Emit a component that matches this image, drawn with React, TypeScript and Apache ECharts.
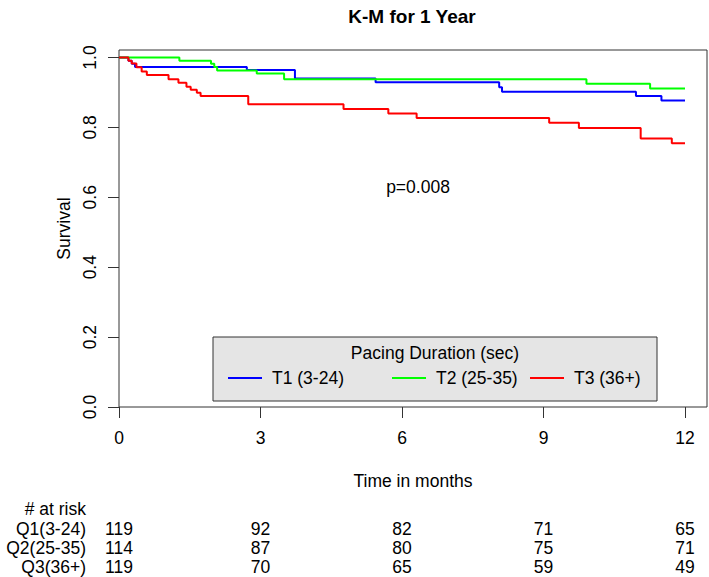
import React, { useEffect, useRef } from "react";
import * as echarts from "echarts";

// ---- data ----
const seriesNames = ["T1 (3-24)", "T2 (25-35)", "T3 (36+)"];
const seriesColors = ["#0000FF", "#00FF00", "#FF0000"];

const t1Times = [0, 0.2, 0.27, 0.34, 2.71, 3.73, 5.44, 8.06, 8.12, 10.96, 11.5, 12];
const t1Surv = [1, 0.991, 0.982, 0.973, 0.964, 0.94, 0.929, 0.915, 0.902, 0.89, 0.877, 0.877];

const t2Times = [0, 1.28, 1.95, 2.02, 2.08, 2.92, 3.5, 9.91, 11.26, 12];
const t2Surv = [1, 0.991, 0.982, 0.973, 0.963, 0.954, 0.938, 0.925, 0.911, 0.911];

const t3Times = [0, 0.2, 0.27, 0.37, 0.48, 0.59, 1.05, 1.26, 1.43, 1.52, 1.65, 1.73, 2.74, 4.76, 5.71, 6.31, 9.12, 9.75, 11.06, 11.72, 12];
const t3Surv = [1, 0.991, 0.983, 0.972, 0.96, 0.95, 0.938, 0.928, 0.916, 0.908, 0.899, 0.89, 0.866, 0.853, 0.84, 0.827, 0.813, 0.798, 0.768, 0.755, 0.755];

const xTicks = [0, 3, 6, 9, 12];
const yTicks = [0, 0.2, 0.4, 0.6, 0.8, 1.0];

const riskGroups = ["Q1(3-24)", "Q2(25-35)", "Q3(36+)"];
const riskQ1 = [119, 92, 82, 71, 65];
const riskQ2 = [114, 87, 80, 75, 71];
const riskQ3 = [119, 70, 65, 59, 49];

const FONT = "'Liberation Sans', Arial, sans-serif";
const FS = 17.5;

function zip(a: number[], b: number[]) {
  return a.map((v, i) => [v, b[i]]);
}

export default function App() {
  const ref = useRef<HTMLDivElement>(null);
  useEffect(() => {
    const chart = echarts.init(ref.current!, null, { renderer: "svg" });
    const data = [zip(t1Times, t1Surv), zip(t2Times, t2Surv), zip(t3Times, t3Surv)];
    const legendLefts = [228, 392, 530];
    const option: any = {
      animation: false,
      backgroundColor: "#ffffff",
      textStyle: { fontFamily: FONT },
      title: {
        text: "K-M for 1 Year",
        left: 407,
        top: 2,
        textAlign: "center",
        textStyle: { fontFamily: FONT, fontSize: 19, fontWeight: "bold", color: "#000" },
      },
      grid: {
        left: 119,
        top: 50,
        width: 588,
        height: 357,
        show: true,
        borderColor: "#333",
        borderWidth: 1,
        backgroundColor: "transparent",
      },
      xAxis: {
        type: "value",
        min: 0,
        max: 12.466,
        name: "Time in months",
        nameLocation: "middle",
        nameGap: 65,
        nameTextStyle: { fontFamily: FONT, fontSize: FS, color: "#000" },
        axisLine: { show: false },
        axisTick: { show: true, length: 11, inside: false, customValues: xTicks, lineStyle: { color: "#333" } },
        axisLabel: { customValues: xTicks, margin: 22, fontFamily: FONT, fontSize: FS, color: "#000" },
        splitLine: { show: false },
      },
      yAxis: {
        type: "value",
        min: 0,
        max: 1.0215,
        name: "Survival",
        nameLocation: "middle",
        nameGap: 42,
        nameRotate: 90,
        nameTextStyle: { fontFamily: FONT, fontSize: FS, color: "#000" },
        axisLine: { show: false },
        axisTick: { show: true, length: 11, inside: false, customValues: yTicks, lineStyle: { color: "#333" } },
        axisLabel: {
          customValues: yTicks,
          rotate: 90,
          margin: 20,
          fontFamily: FONT,
          fontSize: FS,
          color: "#000",
          formatter: (v: number) => v.toFixed(1),
        },
        splitLine: { show: false },
      },
      legend: seriesNames.map((n, i) => ({
        left: legendLefts[i],
        top: 369,
        padding: 0,
        itemWidth: 34,
        itemHeight: 2,
        icon: "rect",
        data: [n],
        textStyle: { fontFamily: FONT, fontSize: FS, color: "#000", padding: [0, 0, 0, 5] },
      })),
      series: seriesNames.map((name, i) => ({
        name,
        type: "line",
        step: "end",
        data: data[i],
        symbol: "none",
        showSymbol: false,
        color: seriesColors[i],
        lineStyle: { color: seriesColors[i], width: 2 },
        z: 3,
      })),
    };
    chart.setOption(option);

    const xs = xTicks.map((t) => chart.convertToPixel({ xAxisIndex: 0 }, t) as number);
    const riskRows = [riskQ1, riskQ2, riskQ3];
    const rowY = [529, 548, 567];
    const graphic: any[] = [
      {
        type: "rect",
        z: 1,
        shape: { x: 213, y: 337, width: 444, height: 64 },
        style: { fill: "#E5E5E5", stroke: "#333", lineWidth: 1 },
      },
      {
        type: "text",
        z: 2,
        x: 435,
        y: 353,
        style: { text: "Pacing Duration (sec)", fontFamily: FONT, fontSize: FS, fill: "#000", textAlign: "center", textVerticalAlign: "middle" },
      },
      {
        type: "text",
        x: 418,
        y: 187,
        style: { text: "p=0.008", fontFamily: FONT, fontSize: FS, fill: "#000", textAlign: "center", textVerticalAlign: "middle" },
      },
      {
        type: "text",
        x: 86,
        y: 509,
        style: { text: "# at risk", fontFamily: FONT, fontSize: FS, fill: "#000", textAlign: "right", textVerticalAlign: "middle" },
      },
    ];
    riskGroups.forEach((g, r) => {
      graphic.push({
        type: "text",
        x: 86,
        y: rowY[r],
        style: { text: g, fontFamily: FONT, fontSize: FS, fill: "#000", textAlign: "right", textVerticalAlign: "middle" },
      });
      riskRows[r].forEach((v, c) => {
        graphic.push({
          type: "text",
          x: xs[c],
          y: rowY[r],
          style: { text: String(v), fontFamily: FONT, fontSize: FS, fill: "#000", textAlign: "center", textVerticalAlign: "middle" },
        });
      });
    });
    chart.setOption({ graphic });
    return () => chart.dispose();
  }, []);
  return <div ref={ref} style={{ position: "absolute", left: 0, top: 0, width: 709, height: 577 }} />;
}
